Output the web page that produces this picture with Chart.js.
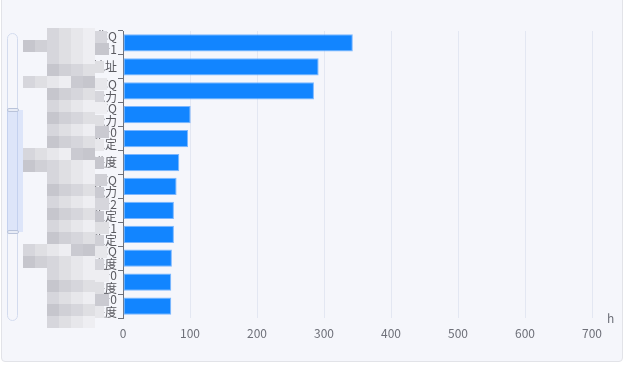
<!DOCTYPE html>
<html>
<head>
<meta charset="utf-8">
<script src="https://cdn.jsdelivr.net/npm/chart.js@4.4.0/dist/chart.umd.min.js"></script>
<style>
  body { margin: 0; background: #ffffff; }
  #card { position: absolute; left: 1px; top: -6px; width: 620px; height: 366px;
          background: #f5f6fb; border: 1px solid #e2e3e8; border-radius: 4px; }
  #wrap { position: absolute; left: 0; top: 0; width: 629px; height: 369px; }
</style>
</head>
<body>
<div id="card"></div>
<div id="wrap"><canvas id="myChart" width="629" height="369"></canvas></div>
<script>
// 类目（名称已打码，只看得到结尾的字）
const categories = [
  ['任务名称Q', '任务编号1'],
  ['任务地址'],
  ['任务名称Q', '任务能力'],
  ['任务名称Q', '任务能力'],
  ['任务编号0', '任务稳定'],
  ['任务进度'],
  ['任务名称Q', '任务能力'],
  ['任务编号2', '任务稳定'],
  ['任务编号1', '任务稳定'],
  ['任务名称Q', '任务进度'],
  ['任务编号0', '任务进度'],
  ['任务编号0', '任务进度']
]
const hours = [343, 292, 285, 101, 97, 84, 80, 76, 76, 73, 72, 72]
const xTicks = [0, 100, 200, 300, 400, 500, 600, 700]
const axisName = 'h'

// 打码的灰块，深浅循环用
const mosaicShades = ['#d6d6dc', '#cacad1', '#dfdfe3', '#c6c6cd', '#e7e7eb', '#d0d0d6', '#eeeef2']
const labelFont = '12px "Noto Sans CJK SC", sans-serif'
const lineH = 12.6

const canvas = document.getElementById('myChart')
const ctx = canvas.getContext('2d')

// 左边的 dataZoom 滑块 + 名字马赛克 + 轴名称 h
const extras = {
  id: 'extras',
  afterDraw(chart) {
    const c = chart.ctx
    const y = chart.scales.y
    const x = chart.scales.x
    c.save()
    // 马赛克：先铺一层底
    let row = 0
    for (let top = 28; top < 328; top += 12) {
      let left = (row % 7 == 4 || row % 9 == 1) ? 23 : 47
      let col = 0
      for (let l = left; l < 95; l += 12) {
        c.fillStyle = mosaicShades[(row * 3 + col * 2 + (row >> 1)) % mosaicShades.length]
        c.fillRect(l, top, Math.min(12, 95 - l), 12)
        col++
      }
      row++
    }
    // 再把每行最后一个字前面的部分盖住
    c.font = labelFont
    const textRight = y.right - 5 - 1
    categories.forEach((lines, i) => {
      const mid = y.getPixelForTick(i)
      lines.forEach((s, k) => {
        const cy = mid + (k - (lines.length - 1) / 2) * lineH
        const w = c.measureText(s.slice(-1)).width
        const r = Math.round(textRight - w - 1)
        c.fillStyle = mosaicShades[(i * 2 + k * 3) % mosaicShades.length]
        c.fillRect(95, Math.round(cy - 6), r - 95, 12)
      })
    })
    // 滑块轨道
    c.strokeStyle = '#d3dbee'
    c.lineWidth = 1
    c.beginPath()
    c.roundRect(7.5, 33.5, 10, 287, 5)
    c.stroke()
    // 选中区域
    c.fillStyle = 'rgba(150,180,245,0.25)'
    c.fillRect(7, 110, 16, 122)
    c.fillStyle = '#e8ecf6'
    c.strokeStyle = '#b9c3da'
    c.beginPath(); c.roundRect(7.5, 108.5, 11, 3, 1.5); c.fill(); c.stroke()
    c.beginPath(); c.roundRect(7.5, 230.5, 11, 3, 1.5); c.fill(); c.stroke()
    // 轴名称
    c.fillStyle = '#6e7079'
    c.font = '12px "Microsoft YaHei", "Noto Sans CJK SC", sans-serif'
    c.textAlign = 'left'
    c.textBaseline = 'middle'
    c.fillText(axisName, x.right + 15, y.bottom)
    c.restore()
  }
}

const myChart = new Chart(ctx, {
  type: 'bar',
  data: {
    labels: categories,
    datasets: [{
      label: '时长',
      data: hours,
      backgroundColor: '#1285ff',
      borderColor: 'rgba(110,175,255,0.9)',
      borderWidth: 1,
      borderSkipped: false,
      barPercentage: 0.72,
      categoryPercentage: 1
    }]
  },
  options: {
    indexAxis: 'y',
    responsive: false,
    animation: false,
    layout: { padding: { left: 0, right: 37, top: 31, bottom: 0 } },
    plugins: { legend: { display: false }, tooltip: { enabled: false } },
    scales: {
      x: {
        min: 0,
        max: 700,
        afterFit: (s) => { s.height = 51 },
        afterBuildTicks: (s) => { s.ticks = xTicks.map(v => ({ value: v })) },
        grid: { color: '#e3e7f2', drawTicks: false },
        border: { display: false },
        ticks: { color: '#6e7079', padding: 8, font: { size: 12, family: '"Microsoft YaHei", "Noto Sans CJK SC", sans-serif' } }
      },
      y: {
        afterFit: (s) => { s.width = 123 },
        grid: { offset: true, drawOnChartArea: false, tickLength: 5, color: '#6e7079' },
        border: { display: true, color: '#6e7079' },
        ticks: {
          autoSkip: false,
          color: '#5a5a60',
          padding: 1,
          font: { size: 12, lineHeight: 1.05, family: '"Noto Sans CJK SC", sans-serif' }
        }
      }
    }
  },
  plugins: [extras]
})
</script>
</body>
</html>
